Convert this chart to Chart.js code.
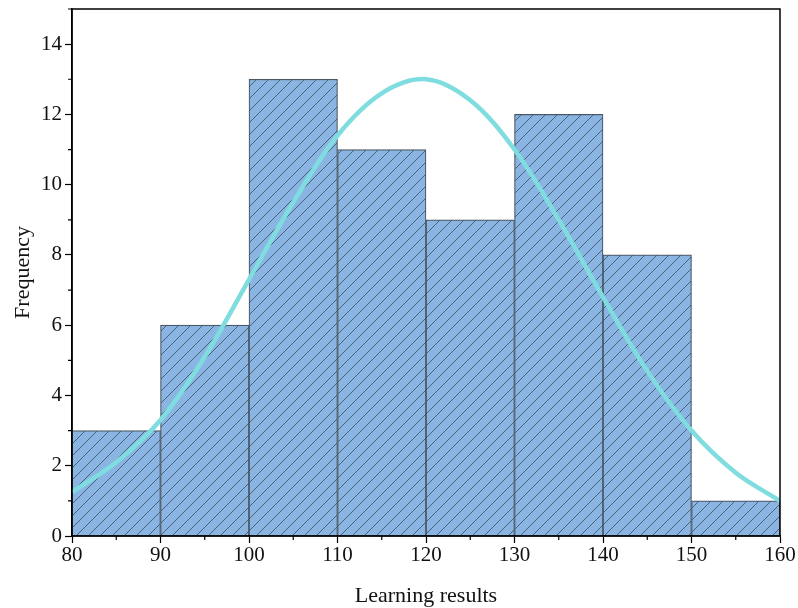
<!DOCTYPE html>
<html>
<head>
<meta charset="utf-8">
<script src="https://cdn.jsdelivr.net/npm/chart.js@4/dist/chart.umd.min.js"></script>
<style>
  html, body { margin: 0; padding: 0; background: #fff; }
  #wrap { width: 798px; height: 608px; }
</style>
</head>
<body>
<div id="wrap"><canvas id="c" width="798" height="608"></canvas></div>
<script>
// Histogram bins (bin centres) and frequencies
const binCenters = [85, 95, 105, 115, 125, 135, 145, 155];
const frequencies = [3, 6, 13, 11, 9, 12, 8, 1];
// Fitted normal curve
const curveX = [80, 85, 90, 95, 100, 105, 110, 115, 120, 125, 130, 135, 140, 145, 150, 155, 160];
const curveY = [1.25, 2.1, 3.3, 5.1, 7.3, 9.5, 11.4, 12.6, 13.0, 12.4, 11.0, 9.0, 6.8, 4.7, 3.0, 1.8, 1.0];
const xTicks = [80, 90, 100, 110, 120, 130, 140, 150, 160];
const yTicks = [0, 2, 4, 6, 8, 10, 12, 14];

function hatchPattern() {
  const s = 12;
  const p = document.createElement('canvas');
  p.width = s; p.height = s;
  const g = p.getContext('2d');
  g.fillStyle = '#8ab4e1';
  g.fillRect(0, 0, s, s);
  g.strokeStyle = 'rgba(50,65,85,0.72)';
  g.lineWidth = 1;
  g.beginPath();
  g.moveTo(0, s); g.lineTo(s, 0);
  g.moveTo(-s, s); g.lineTo(0, 0);
  g.moveTo(s, 2 * s); g.lineTo(2 * s, s);
  g.stroke();
  return document.getElementById('c').getContext('2d').createPattern(p, 'repeat');
}

const frame = {
  id: 'frame',
  afterDraw(chart) {
    const { ctx, chartArea: a, scales } = chart;
    ctx.save();
    ctx.strokeStyle = '#000';
    ctx.lineWidth = 1.5;
    ctx.strokeRect(a.left, a.top, a.right - a.left, a.bottom - a.top);
    ctx.lineWidth = 1.2;
    ctx.beginPath();
    // minor ticks
    for (let v = 1; v <= 15; v += 2) {
      const y = scales.y.getPixelForValue(v);
      ctx.moveTo(a.left, y); ctx.lineTo(a.left - 4, y);
    }
    for (let v = 85; v < 160; v += 10) {
      const x = scales.x.getPixelForValue(v);
      ctx.moveTo(x, a.bottom); ctx.lineTo(x, a.bottom + 4);
    }
    ctx.stroke();
    ctx.restore();
  }
};

const font = 'Liberation Serif, Times New Roman, serif';

new Chart(document.getElementById('c'), {
  data: {
    datasets: [
      {
        type: 'line',
        data: curveX.map((x, i) => ({ x, y: curveY[i] })),
        borderColor: '#7fdde0',
        borderWidth: 4.5,
        pointRadius: 0,
        tension: 0.35,
        fill: false,
        order: 0
      },
      {
        type: 'bar',
        data: binCenters.map((x, i) => ({ x, y: frequencies[i] })),
        backgroundColor: hatchPattern(),
        borderColor: '#4a5866',
        borderWidth: 1.2,
        barPercentage: 1,
        categoryPercentage: 1,
        order: 1
      }
    ]
  },
  options: {
    responsive: false,
    animation: false,
    layout: { padding: { left: 6, right: 18, top: 9, bottom: 0 } },
    plugins: { legend: { display: false }, tooltip: { enabled: false } },
    scales: {
      x: {
        type: 'linear',
        offset: false,
        min: 80, max: 160,
        afterBuildTicks: s => { s.ticks = xTicks.map(v => ({ value: v })); },
        afterFit: s => { s.height = 72; s.paddingLeft = 0; s.paddingRight = 0; },
        border: { display: true, color: '#000', width: 1.5 },
        grid: { offset: false, drawOnChartArea: false, tickLength: 7, color: '#000', tickWidth: 1.2 },
        ticks: { color: '#111', font: { family: font, size: 21 }, padding: 0, maxRotation: 0 },
        title: { display: true, text: 'Learning results', color: '#111', font: { family: font, size: 22 }, padding: { top: 4, bottom: -1 } }
      },
      y: {
        min: 0, max: 15,
        afterBuildTicks: s => { s.ticks = yTicks.map(v => ({ value: v })); },
        afterFit: s => { s.width = 66; s.paddingTop = 0; s.paddingBottom = 0; },
        border: { display: true, color: '#000', width: 1.5 },
        grid: { drawOnChartArea: false, tickLength: 7, color: '#000', tickWidth: 1.2 },
        ticks: { color: '#111', font: { family: font, size: 21 }, padding: 3 },
        title: { display: true, text: 'Frequency', color: '#111', font: { family: font, size: 22 }, padding: { bottom: 2 } }
      }
    }
  },
  plugins: [frame]
});
</script>
</body>
</html>
